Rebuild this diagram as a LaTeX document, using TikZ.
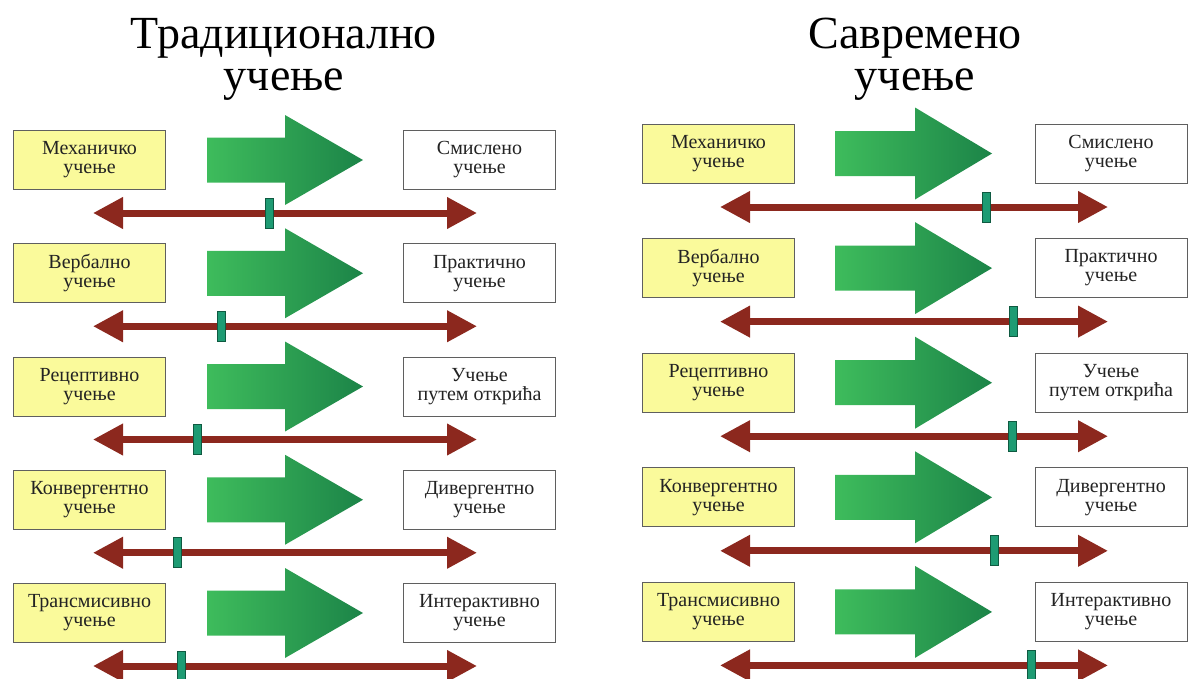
\documentclass[tikz,border=0pt]{standalone}
\usepackage{fontspec}
\setmainfont{Liberation Serif}
\usetikzlibrary{arrows.meta}

\definecolor{boxyellow}{RGB}{250,250,155}
\definecolor{boxgray}{RGB}{95,95,95}
\definecolor{textdark}{RGB}{35,35,35}
\definecolor{scalered}{RGB}{140,40,30}
\definecolor{greenlight}{RGB}{62,188,92}
\definecolor{greendark}{RGB}{28,132,72}
\definecolor{markfill}{RGB}{30,155,115}
\definecolor{markline}{RGB}{15,90,65}

\tikzset{
  labelbox/.style={draw=boxgray, line width=1pt, minimum width=152pt,
    minimum height=59pt, inner sep=0pt, align=center, text=textdark,
    font=\fontsize{20}{19}\selectfont},
  frombox/.style={labelbox, fill=boxyellow},
  tobox/.style={labelbox, fill=white},
  scaleline/.style={draw=scalered, line width=7pt,
    {Triangle[length=30pt,width=30pt]}-{Triangle[length=30pt,width=30pt]}},
  marker/.style={draw=markline, line width=0.8pt, fill=markfill,
    minimum width=8pt, minimum height=30pt, inner sep=0pt},
  title/.style={align=center, text=black, inner sep=0pt,
    font=\fontsize{46}{42}\selectfont},
  flow/.style={left color=greenlight, right color=greendark},
}

\begin{document}
\begin{tikzpicture}[x=1pt, y=-1pt]
\useasboundingbox (0,0) rectangle (1188,678);

% column titles
\node[title] (titleL) at (284,59) {Традиционално\\учење};
\node[title] (titleR) at (915,59) {Савремено\\учење};

% left column: row index / first label / second label / marker position
\foreach \i/\from/\to/\m in {
    0/{Механичко\\учење}/{Смислено\\учење}/269,
    1/{Вербално\\учење}/{Практично\\учење}/221,
    2/{Рецептивно\\учење}/{Учење\\путем открића}/197,
    3/{Конвергентно\\учење}/{Дивергентно\\учење}/177,
    4/{Трансмисивно\\учење}/{Интерактивно\\учење}/181} {
  \pgfmathsetmacro{\yc}{160+113.25*\i}
  \pgfmathsetmacro{\ys}{\yc+53}
  \node[frombox] (Lfrom\i) at (89.5,\yc) {\from};
  \node[tobox] (Lto\i) at (479.5,\yc) {\to};
  \shade[flow] (207,\yc-22.5) -- (285,\yc-22.5) -- (285,\yc-45)
    -- (363,\yc) -- (285,\yc+45) -- (285,\yc+22.5) -- (207,\yc+22.5) -- cycle;
  \coordinate (Ls\i a) at (93,\ys);
  \coordinate (Ls\i b) at (477,\ys);
  \draw[scaleline] (Ls\i a) -- (Ls\i b);
  \node[marker] (Lm\i) at (\m,\ys) {};
}

% right column
\foreach \i/\from/\to/\m in {
    0/{Механичко\\учење}/{Смислено\\учење}/986,
    1/{Вербално\\учење}/{Практично\\учење}/1013,
    2/{Рецептивно\\учење}/{Учење\\путем открића}/1012,
    3/{Конвергентно\\учење}/{Дивергентно\\учење}/994,
    4/{Трансмисивно\\учење}/{Интерактивно\\учење}/1031} {
  \pgfmathsetmacro{\yc}{153.5+114.6*\i}
  \pgfmathsetmacro{\ys}{\yc+53.5}
  \node[frombox] (Rfrom\i) at (718.5,\yc) {\from};
  \node[tobox] (Rto\i) at (1111,\yc) {\to};
  \shade[flow] (835,\yc-22.5) -- (915,\yc-22.5) -- (915,\yc-46)
    -- (992,\yc) -- (915,\yc+46) -- (915,\yc+22.5) -- (835,\yc+22.5) -- cycle;
  \coordinate (Rs\i a) at (720,\ys);
  \coordinate (Rs\i b) at (1108,\ys);
  \draw[scaleline] (Rs\i a) -- (Rs\i b);
  \node[marker] (Rm\i) at (\m,\ys) {};
}
\end{tikzpicture}
\end{document}
